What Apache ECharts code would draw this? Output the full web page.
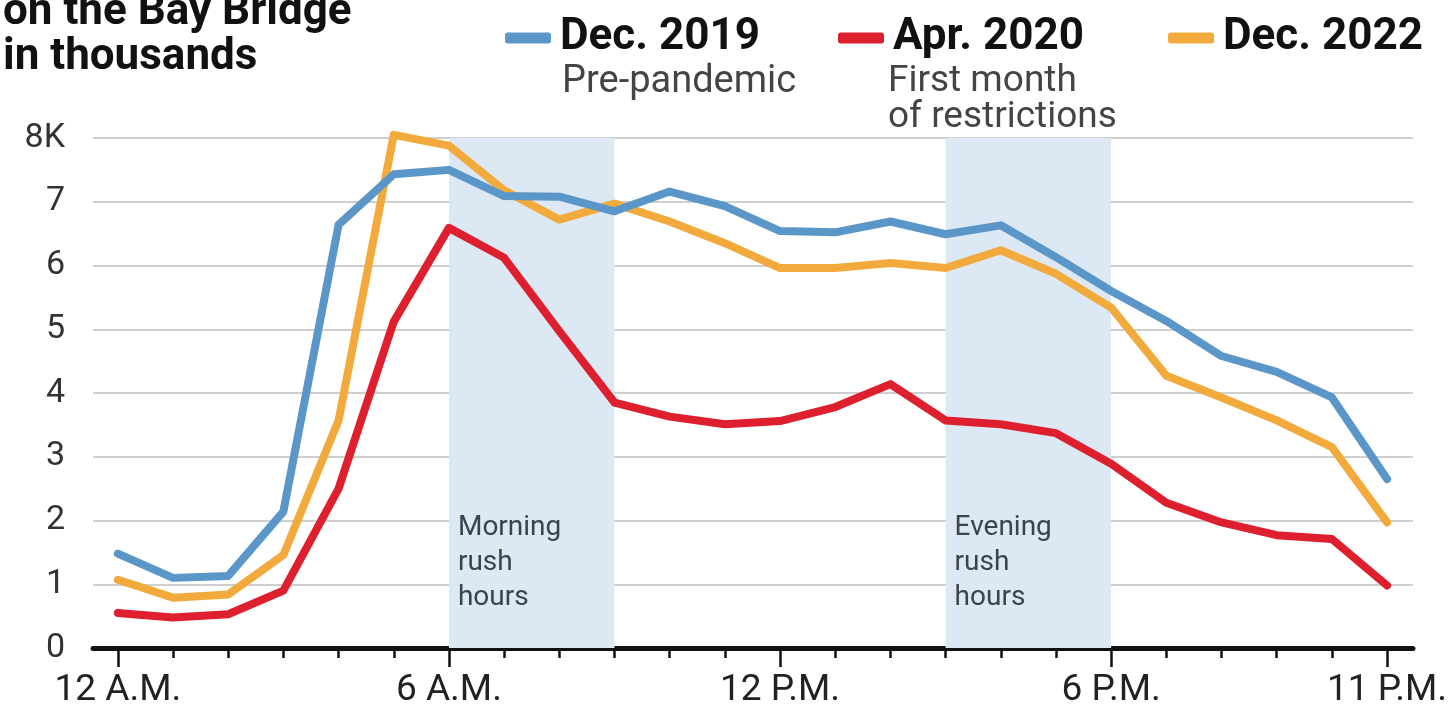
<!DOCTYPE html>
<html>
<head>
<meta charset="utf-8">
<script src="https://cdn.jsdelivr.net/npm/echarts@6/dist/echarts.min.js"></script>
<style>
  html, body { margin: 0; padding: 0; background: #fff; }
  #chart { width: 1453px; height: 714px; }
</style>
</head>
<body>
<div id="chart"></div>
<script>
// hours of the day, 0 = midnight
const hours = [0, 1, 2, 3, 4, 5, 6, 7, 8, 9, 10, 11, 12, 13, 14, 15, 16, 17, 18, 19, 20, 21, 22, 23]
const labelHours = [0, 6, 12, 18, 23]
const labelTexts = ['12 A.M.', '6 A.M.', '12 P.M.', '6 P.M.', '11 P.M.']

// vehicles per hour, thousands
const dec2019 = [1.48, 1.1, 1.13, 2.14, 6.64, 7.43, 7.5, 7.09, 7.08, 6.85, 7.16, 6.93, 6.54, 6.52, 6.69, 6.49, 6.63, 6.13, 5.6, 5.13, 4.58, 4.33, 3.93, 2.65]
const apr2020 = [0.55, 0.48, 0.53, 0.9, 2.5, 5.12, 6.59, 6.12, 4.97, 3.85, 3.63, 3.51, 3.56, 3.78, 4.14, 3.57, 3.51, 3.37, 2.89, 2.28, 1.97, 1.77, 1.71, 0.98]
const dec2022 = [1.07, 0.79, 0.84, 1.46, 3.57, 8.05, 7.88, 7.18, 6.72, 6.97, 6.69, 6.35, 5.96, 5.96, 6.04, 5.96, 6.24, 5.87, 5.34, 4.27, 3.93, 3.57, 3.15, 1.97]

const morningRush = [6, 9]
const eveningRush = [15, 18]

const pairs = vals => hours.map((h, i) => [h, vals[i]])

const chart = echarts.init(document.getElementById('chart'))

const legendBase = {
  top: 11,
  itemWidth: 46,
  itemHeight: 11,
  icon: 'roundRect',
  textStyle: { fontSize: 44, fontWeight: 'bold', color: '#111', padding: [0, 0, 0, 4] }
}

const lineSeries = (name, vals, color) => ({
  name,
  type: 'line',
  data: pairs(vals),
  showSymbol: false,
  clip: false,
  color,
  lineStyle: { width: 8, cap: 'round', join: 'round' }
})

// same rectangle for both grids; the second one only carries the hourly ticks
const gridRect = { left: 93, right: 40, top: 138, bottom: 66 }

const options = {
  animation: false,
  textStyle: { fontFamily: 'Roboto' },
  title: [
    {
      text: 'on the Bay Bridge\nin thousands',
      left: -2,
      top: -15,
      textStyle: { fontSize: 44, fontWeight: 'bold', color: '#111', lineHeight: 45 }
    },
    {
      text: 'Pre-pandemic',
      left: 557,
      top: 59,
      textStyle: { fontSize: 38, fontWeight: 'normal', color: '#444', lineHeight: 36 }
    },
    {
      text: 'First month\nof restrictions',
      left: 883,
      top: 59,
      textStyle: { fontSize: 37, fontWeight: 'normal', color: '#444', lineHeight: 36 }
    }
  ],
  legend: [
    Object.assign({ left: 500, data: ['Dec. 2019'] }, legendBase),
    Object.assign({ left: 833, data: ['Apr. 2020'] }, legendBase),
    Object.assign({ left: 1163, data: ['Dec. 2022'] }, legendBase)
  ],
  grid: [Object.assign({}, gridRect), Object.assign({}, gridRect)],
  xAxis: [
    {
      type: 'value',
      gridIndex: 0,
      min: -0.45,
      max: 23.47,
      axisLine: { lineStyle: { color: '#111', width: 5 } },
      axisTick: { customValues: labelHours, length: 19, lineStyle: { color: '#111', width: 2.5 } },
      axisLabel: {
        customValues: labelHours,
        formatter: v => labelTexts[labelHours.indexOf(v)],
        fontSize: 37,
        color: '#222',
        margin: 24
      },
      splitLine: { show: false }
    },
    {
      type: 'value',
      gridIndex: 1,
      min: -0.45,
      max: 23.47,
      axisLine: { show: false },
      axisTick: { show: true, customValues: hours, length: 10, lineStyle: { color: '#111', width: 2.5 } },
      axisLabel: { show: false },
      splitLine: { show: false }
    }
  ],
  yAxis: [
    {
      type: 'value',
      gridIndex: 0,
      min: 0,
      max: 8,
      interval: 1,
      axisLine: { show: false },
      axisTick: { show: false },
      axisLabel: {
        formatter: v => (v === 8 ? '8K' : String(v)),
        fontSize: 34,
        color: '#333',
        margin: 28
      },
      splitLine: { lineStyle: { color: '#cfcfcf', width: 2 } }
    },
    {
      type: 'value',
      gridIndex: 1,
      min: 0,
      max: 8,
      show: false
    }
  ],
  series: [
    {
      name: 'rush',
      type: 'line',
      data: [],
      markArea: {
        silent: true,
        itemStyle: { color: '#dce8f3' },
        label: {
          show: true,
          position: 'insideBottomLeft',
          offset: [4, -28],
          fontSize: 28,
          lineHeight: 35,
          color: '#3a444e'
        },
        data: [
          [
            { name: 'Morning\nrush\nhours', xAxis: morningRush[0], yAxis: 0 },
            { xAxis: morningRush[1], yAxis: 8 }
          ],
          [
            { name: 'Evening\nrush\nhours', xAxis: eveningRush[0], yAxis: 0 },
            { xAxis: eveningRush[1], yAxis: 8 }
          ]
        ]
      }
    },
    lineSeries('Dec. 2022', dec2022, '#f2aa3c'),
    lineSeries('Apr. 2020', apr2020, '#de1f2d'),
    lineSeries('Dec. 2019', dec2019, '#5a96c8')
  ]
}

chart.setOption(options)
</script>
</body>
</html>
